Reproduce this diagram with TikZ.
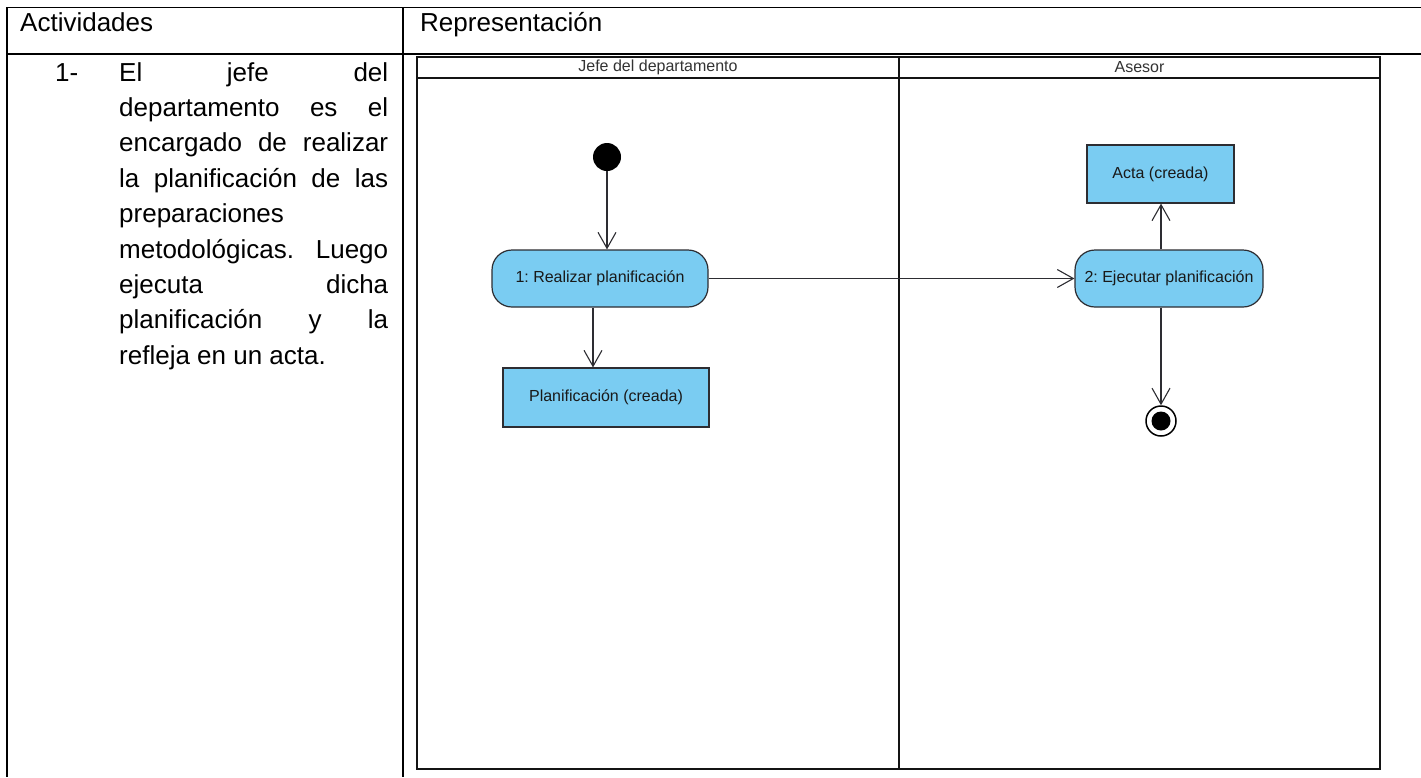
\documentclass[tikz,border=0pt]{standalone}
\usepackage{fontspec}
\setmainfont{Liberation Sans}
\usetikzlibrary{arrows.meta}
\definecolor{actfill}{RGB}{122,204,242}
\definecolor{shapeline}{RGB}{45,45,50}
\definecolor{lanecolor}{RGB}{20,20,20}

\newcommand{\bodysize}{\fontsize{26}{30}\selectfont}
\newcommand{\diagsize}{\fontsize{16}{19}\selectfont}
\frenchspacing

\begin{document}
\begin{tikzpicture}[x=1pt,y=-1pt,
  tableline/.style={line width=1.5pt,black},
  laneline/.style={line width=2.6pt,draw=lanecolor},
  celltext/.style={anchor=base west,inner sep=0pt,font=\bodysize},
  lanetitle/.style={inner sep=0pt,font=\diagsize,text=black!80},
  action/.style={draw=shapeline,line width=1.2pt,fill=actfill,rounded corners=20pt,inner sep=0pt,font=\diagsize,text=black!90},
  objectnode/.style={draw=shapeline,line width=1.2pt,fill=actfill,inner sep=0pt,font=\diagsize,text=black!90},
  flow/.style={draw=shapeline,line width=1.1pt,-{Straight Barb[length=16pt,width=18pt]}},
]
\useasboundingbox (0,0) rectangle (1421,777);
\fill[white] (0,0) rectangle (1421,777);

% table grid
\draw[tableline] (7,7.5) -- (1421,7.5);
\draw[tableline] (7,54) -- (1421,54);
\draw[tableline] (7,7) -- (7,777);
\draw[tableline] (403,7) -- (403,777);

% column headers
\node[celltext] (hdrAct) at (20,31) {Actividades};
\node[celltext] (hdrRep) at (420,31) {Representación};

% activity description, justified
\node[celltext] (num) at (55,81) {1-};
\node[celltext] (ln1) at (119,81) {\hbox to 269pt{El\hfill jefe\hfill del}};
\node[celltext] (ln2) at (119,116.4) {\hbox to 269pt{departamento\hfill es\hfill el}};
\node[celltext] (ln3) at (119,151.8) {\hbox to 269pt{encargado\hfill de\hfill realizar}};
\node[celltext] (ln4) at (119,187.2) {\hbox to 269pt{la\hfill planificación\hfill de\hfill las}};
\node[celltext] (ln5) at (119,222.6) {preparaciones};
\node[celltext] (ln6) at (119,258) {\hbox to 269pt{metodológicas.\hfill Luego}};
\node[celltext] (ln7) at (119,293.4) {\hbox to 269pt{ejecuta\hfill dicha}};
\node[celltext] (ln8) at (119,328.8) {\hbox to 269pt{planificación\hfill y\hfill la}};
\node[celltext] (ln9) at (119,364.2) {refleja en un acta.};

% swimlanes
\draw[laneline] (417,57) rectangle (1380,769);
\draw[laneline] (417,78) -- (1380,78);
\draw[laneline] (899,57) -- (899,769);
\node[lanetitle] (laneA) at (658,67.5) {Jefe del departamento};
\node[lanetitle] (laneB) at (1139.5,67.5) {Asesor};

% activity nodes
\node[circle,fill=black,minimum size=28pt,inner sep=0pt] (start) at (607,157) {};
\node[action,minimum width=216pt,minimum height=57pt] (plan) at (600,278.5) {1: Realizar planificación};
\node[objectnode,minimum width=206pt,minimum height=59pt] (planif) at (606,397.5) {Planificación (creada)};
\node[action,minimum width=188pt,minimum height=57pt] (exec) at (1169,278.5) {2: Ejecutar planificación};
\node[objectnode,minimum width=147pt,minimum height=58pt] (acta) at (1160.5,174) {Acta (creada)};
\node[circle,draw=black,line width=1.5pt,fill=white,minimum size=30pt,inner sep=0pt] (finish) at (1161,421) {};
\fill[black] (finish.center) circle (9.5pt);

% control and object flows
\coordinate (planout) at ([xshift=-7pt]plan.south);
\coordinate (execup) at ([xshift=-8pt]exec.north);
\coordinate (execdown) at ([xshift=-8pt]exec.south);
\draw[flow] (start) -- (start |- plan.north);
\draw[flow] (planout) -- (planout |- planif.north);
\draw[flow] (plan.east) -- (exec.west);
\draw[flow] (execup) -- (execup |- acta.south);
\draw[flow] (execdown) -- (execdown |- finish.north);
\end{tikzpicture}
\end{document}
